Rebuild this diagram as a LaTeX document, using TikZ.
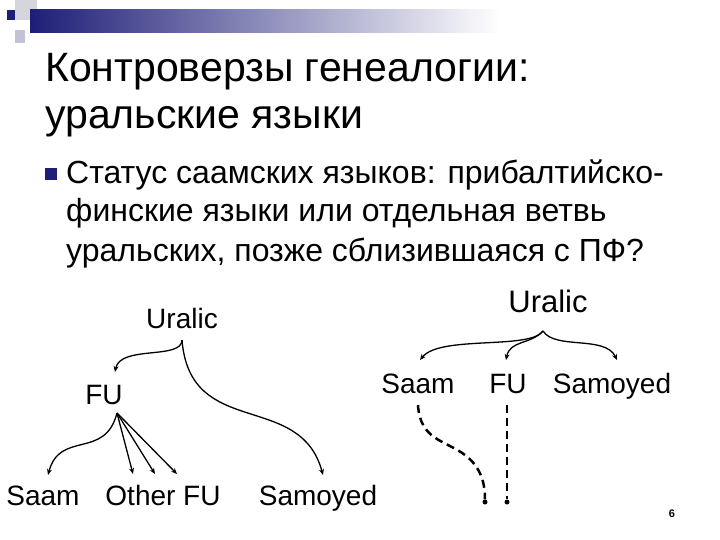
\documentclass[tikz,border=0pt]{standalone}
\usepackage{fontspec}
\setmainfont{Liberation Sans}
\usetikzlibrary{arrows.meta}
\definecolor{navy}{RGB}{30,30,120}
\tikzset{
  lbl/.style={font=\fontsize{28}{30}\selectfont, inner sep=1pt, anchor=base},
  body/.style={anchor=base west, font=\fontsize{32}{34}\selectfont, inner sep=0pt},
  arr/.style={-{Stealth[length=6pt,width=5pt]}, line width=1.3pt},
  dsh/.style={line width=2.5pt, dash pattern=on 8pt off 5pt},
  dotn/.style={circle, fill=black, inner sep=0pt, minimum size=5pt}
}
\begin{document}
\begin{tikzpicture}[x=1pt,y=-1pt]
\useasboundingbox (0,0) rectangle (720,540);
% decoration
\fill[blue!10!gray!30] (15,0) rectangle (37,20);
\fill[blue!20!gray!40] (15,30) rectangle (25,43);
\shade[left color=navy, right color=white] (30,10) rectangle (500,33);
\fill[navy] (7,10) rectangle (15,20);
% title
\node[anchor=base west, inner sep=0pt, font=\fontsize{41}{44}\selectfont] (title) at (45,82) {Контроверзы генеалогии:};
\node[anchor=base west, inner sep=0pt, font=\fontsize{41}{44}\selectfont] (title2) at (45,129) {уральские языки};
\fill[navy] (45,168) rectangle (57,180);
\node[body] (b1) at (66,184) {Статус саамских языков: прибалтийско-};
\node[body] (b2) at (66,222) {финские языки или отдельная ветвь};
\node[body] (b3) at (66,261) {уральских, позже сблизившаяся с ПФ?};
% diagram 1
\node[lbl] (u1) at (182,328) {Uralic};
\node[lbl] (fu1) at (104,404) {FU};
\node[lbl] (sa1) at (43,505) {Saam};
\node[lbl] (ofu) at (163,505) {Other FU};
\node[lbl] (sm1) at (318,505) {Samoyed};
\coordinate (p1) at (182,340);
\coordinate (q1) at (117,413);
\draw[arr] (p1) .. controls (182,360) and (120,345) .. (115,372);
\draw[arr] (p1) .. controls (190,440) and (300,390) .. (323,475);
\draw[arr] (q1) .. controls (105,460) and (60,430) .. (48,475);
\draw[arr] (q1) -- (133,474);
\draw[arr] (q1) -- (155,474);
\draw[arr] (q1) -- (177,474);
% diagram 2
\node[lbl, font=\fontsize{31}{33}\selectfont] (u2) at (548,312) {Uralic};
\node[lbl] (sa2) at (418,393) {Saam};
\node[lbl] (fu2) at (508,393) {FU};
\node[lbl] (sm2) at (612,393) {Samoyed};
\coordinate (p2) at (543,331);
\draw[arr] (p2) .. controls (530,350) and (440,335) .. (420,360);
\draw[arr] (p2) .. controls (530,345) and (510,340) .. (506,360);
\draw[arr] (p2) .. controls (555,350) and (605,335) .. (617,360);
\node[dotn] (d1) at (485,502) {};
\node[dotn] (d2) at (507,502) {};
\draw[dsh] (418,405) .. controls (420,440) and (445,440) .. (465,455) .. controls (482,468) and (485,485) .. (d1);
\draw[dsh] (507,405) -- (d2);
\node[font=\bfseries\fontsize{11}{12}\selectfont] (pg) at (672,514) {6};
\end{tikzpicture}
\end{document}
